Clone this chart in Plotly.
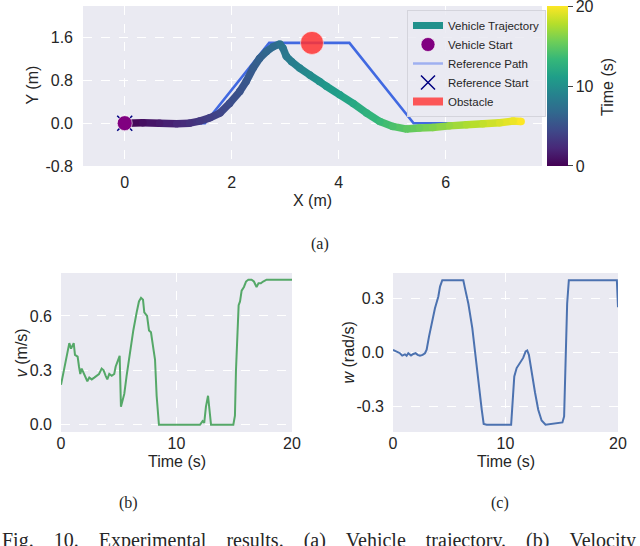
import plotly.graph_objects as go
from plotly.colors import sample_colorscale

W, H = 640, 546

# ── Data ───────────────────────────────────────────────────────────────────────

# vehicle trajectory: position (m) and time stamp (s)
traj_x = [0.03, 0.34, 0.65, 0.97, 1.21, 1.40, 1.59, 1.78, 1.96, 2.15, 2.27, 2.40,
          2.52, 2.65, 2.77, 2.90, 2.96, 3.02, 3.12, 3.27, 3.46, 3.64, 3.77, 4.02,
          4.27, 4.52, 4.77, 5.01, 5.27, 5.51, 5.76, 6.07, 6.39, 6.70, 7.01, 7.26, 7.41]
traj_y = [0.00, 0.01, 0.00, -0.01, 0.00, 0.04, 0.10, 0.19, 0.37, 0.59, 0.78, 1.03,
          1.21, 1.34, 1.43, 1.48, 1.40, 1.25, 1.15, 1.03, 0.90, 0.78, 0.69, 0.53,
          0.37, 0.19, 0.03, -0.06, -0.11, -0.09, -0.08, -0.05, -0.03, -0.01, 0.01, 0.04, 0.03]
traj_t = [0.0, 0.8, 1.5, 2.2, 2.8, 3.3, 3.8, 4.2, 4.7, 5.1, 5.4, 5.8,
          6.2, 6.6, 7.0, 7.5, 7.8, 8.1, 8.5, 9.0, 9.6, 10.2, 10.6, 11.3,
          12.0, 12.8, 13.5, 14.2, 14.9, 15.5, 16.1, 16.8, 17.5, 18.2, 18.9, 19.5, 20.0]

ref_x = [0.0, 1.5, 2.7, 4.2, 5.4, 7.4]
ref_y = [0.0, 0.0, 1.5, 1.5, 0.0, 0.0]

start_xy = (0.0, 0.0)
obstacle_xy = (3.5, 1.5)

# linear velocity v (m/s)
v_t = [0.0, 0.35, 0.58, 0.72, 0.87, 0.98, 1.1, 1.21, 1.44, 1.56, 1.67, 1.79, 1.93,
       2.16, 2.28, 2.45, 2.66, 2.88, 3.09, 3.29, 3.52, 3.69, 3.87, 4.01, 4.18, 4.39,
       4.61, 4.73, 4.9, 5.08, 5.19, 5.34, 5.48, 5.68, 5.97, 6.26, 6.55, 6.75, 6.93,
       7.1, 7.21, 7.45, 7.62, 7.79, 8.02, 8.14, 8.28, 8.48, 12.03, 12.26, 12.4,
       12.55, 12.73, 12.84, 12.99, 14.92, 15.06, 15.15, 15.26, 15.38, 15.5, 15.64,
       15.84, 16.02, 16.22, 16.5, 16.7, 16.93, 17.1, 17.3, 17.5, 17.8, 18.4, 20.0]
v_val = [0.22, 0.34, 0.40, 0.45, 0.42, 0.44, 0.45, 0.385, 0.376, 0.32, 0.28, 0.31, 0.29,
         0.25, 0.24, 0.26, 0.25, 0.26, 0.27, 0.28, 0.31, 0.30, 0.27, 0.25, 0.28, 0.27,
         0.28, 0.32, 0.35, 0.38, 0.10, 0.13, 0.17, 0.27, 0.40, 0.52, 0.62, 0.68, 0.70,
         0.69, 0.62, 0.60, 0.52, 0.51, 0.41, 0.36, 0.16, 0.0, 0.0, 0.02, 0.01,
         0.10, 0.16, 0.10, 0.0, 0.0, 0.05, 0.30, 0.49, 0.66, 0.68, 0.74,
         0.76, 0.79, 0.80, 0.80, 0.79, 0.76, 0.78, 0.78, 0.79, 0.80, 0.80, 0.80]

# angular velocity w (rad/s)
w_t = [0.0, 0.33, 0.62, 0.82, 1.06, 1.21, 1.36, 1.6, 1.8, 2.01, 2.19, 2.4, 2.63, 2.84,
       2.99, 3.2, 3.44, 3.73, 4.03, 4.18, 4.38, 6.25, 6.4, 6.7, 7.05, 7.29, 7.59, 7.89,
       8.06, 8.33, 10.5, 10.6, 10.78, 10.99, 11.28, 11.57, 11.79, 11.93, 12.08, 12.32,
       12.62, 12.91, 13.21, 13.56, 13.94, 14.68, 15.06, 15.21, 15.33, 15.48, 15.63,
       19.9, 20.0]
w_val = [0.015, 0.006, -0.004, -0.017, -0.010, -0.018, -0.004, -0.017, -0.008, -0.004,
         -0.013, -0.018, -0.013, -0.004, 0.015, 0.088, 0.16, 0.245, 0.31, 0.365, 0.40,
         0.40, 0.355, 0.27, 0.135, -0.004, -0.17, -0.317, -0.395, -0.40, -0.40, -0.317,
         -0.133, -0.086, -0.06, -0.03, 0.006, 0.011, -0.013, -0.11, -0.22, -0.317,
         -0.376, -0.40, -0.397, -0.394, -0.387, -0.354, -0.096, 0.27, 0.40, 0.40, 0.25]

caption_words = ["Fig.", "10.", "Experimental", "results.", "(a)", "Vehicle",
                 "trajectory.", "(b)", "Velocity"]

# ── Styling helpers ────────────────────────────────────────────────────────────

BG = "#eaeaf2"
SANS = "Liberation Sans, Arial, sans-serif"
SERIF = "Liberation Serif, Times New Roman, serif"
TXT = "#262626"


def px_x(px):
    return px / W


def px_y(py):
    return 1 - py / H


def _axis(domain, rng, tickvals, ticktext, anchor, standoff):
    return dict(
        domain=domain, range=rng, anchor=anchor,
        tickvals=tickvals, ticktext=ticktext,
        showgrid=True, gridcolor="white", gridwidth=1, griddash="dash",
        zeroline=False, showline=False, ticks="",
        ticklabelstandoff=standoff,
        tickfont=dict(family=SANS, size=16, color=TXT),
    )


fig = go.Figure()

# ── (a) trajectory ─────────────────────────────────────────────────────────────

fig.add_trace(go.Scatter(
    x=ref_x, y=ref_y, mode="lines", showlegend=False, hoverinfo="skip",
    line=dict(color="#4169e1", width=2.6), xaxis="x", yaxis="y"))

for i in range(len(traj_x) - 1):
    tm = (traj_t[i] + traj_t[i + 1]) / 2
    col = sample_colorscale("Viridis", [tm / 20])[0]
    fig.add_trace(go.Scatter(
        x=traj_x[i:i + 2], y=traj_y[i:i + 2], mode="lines",
        line=dict(color=col, width=7.5), showlegend=False, hoverinfo="skip",
        xaxis="x", yaxis="y"))

fig.add_trace(go.Scatter(
    x=traj_x, y=traj_y, mode="markers", showlegend=False,
    marker=dict(size=7.5, color=traj_t, colorscale="Viridis", cmin=0, cmax=20,
                showscale=True,
                colorbar=dict(
                    x=px_x(547), xanchor="left", xpad=0,
                    y=px_y(6), yanchor="top", ypad=0,
                    len=160 / H, lenmode="fraction",
                    thickness=21, thicknessmode="pixels",
                    outlinewidth=0, ticks="outside", ticklen=5, tickcolor="#444",
                    tickvals=[0.01, 10, 19.99], ticktext=["0", "10", "20"],
                    ticklabeloverflow="allow",
                    tickfont=dict(family=SANS, size=16, color=TXT))),
    xaxis="x", yaxis="y"))

fig.add_trace(go.Scatter(
    x=[start_xy[0]], y=[start_xy[1]], mode="markers", showlegend=False,
    marker=dict(symbol="x-thin-open", size=15, color="navy", line=dict(width=1.5, color="navy")),
    xaxis="x", yaxis="y"))
fig.add_trace(go.Scatter(
    x=[start_xy[0]], y=[start_xy[1]], mode="markers", showlegend=False,
    marker=dict(size=15, color="purple", line=dict(width=1, color="rgba(255,255,255,0.6)")),
    xaxis="x", yaxis="y"))
fig.add_trace(go.Scatter(
    x=[obstacle_xy[0]], y=[obstacle_xy[1]], mode="markers", showlegend=False,
    marker=dict(size=23, color="rgba(255,50,50,0.85)", line=dict(width=1, color="rgba(255,255,255,0.5)")),
    xaxis="x", yaxis="y"))

# legend-only entries
fig.add_trace(go.Scatter(x=[None], y=[None], mode="lines", name="Vehicle Trajectory",
                         line=dict(color="#21918c", width=7), xaxis="x", yaxis="y"))
fig.add_trace(go.Scatter(x=[None], y=[None], mode="markers", name="Vehicle Start",
                         marker=dict(size=14, color="purple", line=dict(width=1, color="rgba(255,255,255,0.6)")),
                         xaxis="x", yaxis="y"))
fig.add_trace(go.Scatter(x=[None], y=[None], mode="lines", name="Reference Path",
                         line=dict(color="#9fb0f0", width=2.5), xaxis="x", yaxis="y"))
fig.add_trace(go.Scatter(x=[None], y=[None], mode="markers", name="Reference Start",
                         marker=dict(symbol="x-thin-open", size=14, color="navy", line=dict(width=1.5, color="navy")),
                         xaxis="x", yaxis="y"))
fig.add_trace(go.Scatter(x=[None], y=[None], mode="lines", name="Obstacle",
                         line=dict(color="rgba(255,60,60,0.85)", width=8), xaxis="x", yaxis="y"))

# ── (b) velocity, (c) angular velocity ─────────────────────────────────────────

fig.add_trace(go.Scatter(x=v_t, y=v_val, mode="lines", showlegend=False,
                         line=dict(color="#55a868", width=2), xaxis="x2", yaxis="y2"))
fig.add_trace(go.Scatter(x=w_t, y=w_val, mode="lines", showlegend=False,
                         line=dict(color="#4c72b0", width=2), xaxis="x3", yaxis="y3"))

ann = [
    ("X (m)", 312.5, 200, 0, SANS, 16),
    ("Y (m)", 32, 85.5, -90, SANS, 16),
    ("Time (s)", 607, 87, -90, SANS, 16),
    ("(a)", 320, 244, 0, SERIF, 16),
    ("Time (s)", 176.5, 461.7, 0, SANS, 16),
    ("Time (s)", 505.5, 461.7, 0, SANS, 16),
    ("<i>v</i> (m/s)", 21.7, 352.5, -90, SANS, 16),
    ("<i>w</i> (rad/s)", 348, 352.5, -90, SANS, 16),
    ("(b)", 128, 503, 0, SERIF, 16),
    ("(c)", 500, 503, 0, SERIF, 16),
]
annotations = [dict(text=t, x=px_x(x), y=px_y(y), xref="paper", yref="paper",
                    xanchor="center", yanchor="middle",
                    showarrow=False, textangle=a, font=dict(family=f, size=s, color=TXT))
               for t, x, y, a, f, s in ann]
annotations.append(dict(
    text="\u00a0\u00a0\u00a0\u00a0".join(caption_words),
    x=0, xanchor="left", y=px_y(527), yanchor="top", xref="paper", yref="paper",
    showarrow=False, font=dict(family=SERIF, size=20, color=TXT)))

fig.update_layout(
    width=W, height=H,
    margin=dict(l=0, r=0, t=0, b=0, autoexpand=False),
    paper_bgcolor="white", plot_bgcolor=BG,
    xaxis=_axis([px_x(83), px_x(542)], [-0.78, 7.8], [0, 2, 4, 6], ["0", "2", "4", "6"], "y", 5),
    yaxis=_axis([px_y(166), px_y(6)], [-0.8, 2.19], [-0.8, 0.0, 0.8, 1.6],
                ["-0.8", "0.0", "0.8", "1.6"], "x", 9),
    xaxis2=_axis([px_x(61), px_x(292)], [0, 20], [0, 10, 20], ["0", "10", "20"], "y2", 0),
    yaxis2=_axis([px_y(432), px_y(273)], [-0.04, 0.837], [0.0, 0.3, 0.6],
                 ["0.0", "0.3", "0.6"], "x2", 8),
    xaxis3=_axis([px_x(393), px_x(618)], [0, 20], [0, 10, 20], ["0", "10", "20"], "y3", 0),
    yaxis3=_axis([px_y(432), px_y(273)], [-0.44, 0.44], [-0.3, 0.0, 0.3],
                 ["-0.3", "0.0", "0.3"], "x3", 8),
    legend=dict(x=px_x(407), xanchor="left", y=px_y(10), yanchor="top",
                bgcolor="rgba(234,234,242,0.85)", bordercolor="#d4d4dc", borderwidth=1,
                font=dict(family=SANS, size=11.5, color=TXT),
                tracegroupgap=0, itemwidth=30),
    annotations=annotations,
)

fig.write_html(
    "out.html", config={"displayModeBar": False},
    post_script="document.body.style.margin='0px';"
                "document.body.style.overflow='hidden';"
                "document.documentElement.style.overflow='hidden';")
